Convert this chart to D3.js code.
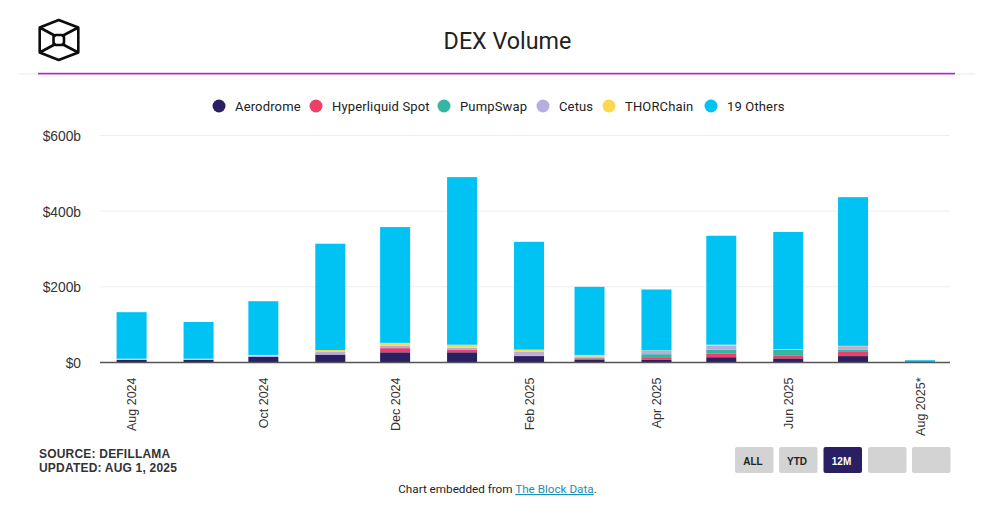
<!DOCTYPE html>
<html><head><meta charset="utf-8">
<script src="https://cdn.jsdelivr.net/npm/d3@7"></script>
<style>html,body{margin:0;padding:0;background:#fff}svg{display:block}</style>
</head><body><div id="c"></div>
<script>
const months=["2024-08-01","2024-09-01","2024-10-01","2024-11-01","2024-12-01","2025-01-01","2025-02-01","2025-03-01","2025-04-01","2025-05-01","2025-06-01","2025-07-01","2025-08-01"];
const seriesNames=["Aerodrome","Hyperliquid Spot","PumpSwap","Cetus","THORChain","19 Others"];
const seriesColors=["#2a1f63","#ee3f68","#35b5a2","#b7aede","#fbd84f","#00c2f3"];
const aerodrome=[7,7,15,21,27,27,17,8,7,14,11,17,0];
const hyperliquid=[0,0,0,0,11,6,1,3,7,9,8,11,0];
const pumpswap=[0,0,0,0,0,0,0,2,8,11,14,6,0];
const cetus=[1,1,3,7,6,6,11,3,9,10,1,9,0];
const thorchain=[2,2,2,5,8,8,5,4,1,3,1,1,0];
const others=[123,97,142,281,306,443,285,180,161,288,310,393,6];
const xTickDates=["2024-08-01","2024-10-01","2024-12-01","2025-02-01","2025-04-01","2025-06-01","2025-08-01"];
const xTickLabels=["Aug 2024","Oct 2024","Dec 2024","Feb 2025","Apr 2025","Jun 2025","Aug 2025*"];
const yTicks=[0,200,400,600];
const buttonLabels=["ALL","YTD","12M","",""];

const W=993,H=513,font="Roboto, sans-serif",arial="'Liberation Sans', Arial, sans-serif";
const svg=d3.select("#c").append("svg").attr("width",W).attr("height",H);
const parse=d3.utcParse("%Y-%m-%d");
const x=d3.scaleUtc().domain([parse(months[0]),parse(months[12])]).range([131.6,920]);
const y=d3.scaleLinear().domain([0,600]).range([362.5,135.5]);
const seriesValues=[aerodrome,hyperliquid,pumpswap,cetus,thorchain,others];
const rows=months.map((m,i)=>{const r={date:parse(m)};seriesNames.forEach((n,k)=>r[n]=seriesValues[k][i]);return r;});
const stacked=d3.stack().keys(seriesNames)(rows);

// header
svg.append("line").attr("x1",19).attr("x2",975).attr("y1",74).attr("y2",74).attr("stroke","#ebe6ee");
svg.append("rect").attr("x",38).attr("width",917).attr("y",72.8).attr("height",1.6).attr("fill","#b81fd6");
svg.append("text").attr("x",507.5).attr("y",49).attr("text-anchor","middle").attr("font-family",font).attr("font-size",23.3).attr("fill","#222").text("DEX Volume");
const logo=svg.append("g").attr("fill","none").attr("stroke","#0d0d0d").attr("stroke-width",2.6).attr("stroke-linejoin","round");
logo.append("path").attr("d","M58.7 20L78.3 27.5V52.5L58.7 60L39.7 52.5V27.5Z");
logo.append("path").attr("d","M55.5 35H62L64 37V43L62 45H55.5L53.5 43V37Z");
logo.append("path").attr("d","M39.7 27.5L54.5 35.5M78.3 27.5L63 35.5M39.7 52.5L54.5 44.5M78.3 52.5L63 44.5");

// legend
const legendX=[219,316,444,543,609,711];
const legend=svg.append("g").selectAll("g").data(seriesNames).join("g").attr("transform",(d,i)=>`translate(${legendX[i]},106)`);
legend.append("circle").attr("r",6.5).attr("fill",(d,i)=>seriesColors[i]);
legend.append("text").attr("x",16).attr("y",4.6).attr("font-family",font).attr("font-size",13).attr("letter-spacing",0.15).attr("fill","#222").text(d=>d);

// grid and y axis
const yAxis=svg.append("g").attr("transform","translate(100,0.6)").call(d3.axisLeft(y).tickValues(yTicks).tickSize(0).tickPadding(19).tickFormat(d=>d?`$${d}b`:"$0"));
yAxis.select(".domain").remove();
yAxis.selectAll("text").attr("font-family",arial).attr("font-size",13.8).attr("fill","#333");
svg.append("g").selectAll("line").data(yTicks.slice(1)).join("line").attr("x1",100).attr("x2",950).attr("y1",d=>y(d)).attr("y2",d=>y(d)).attr("stroke","#eeeeee");

// bars
svg.append("g").selectAll("g").data(stacked).join("g").attr("fill",(d,i)=>seriesColors[i])
 .selectAll("rect").data(d=>d).join("rect")
 .attr("x",d=>x(d.data.date)-15).attr("width",30)
 .attr("y",d=>y(d[1])).attr("height",d=>y(d[0])-y(d[1]));

// x axis
const xAxis=svg.append("g").attr("transform","translate(0,362.5)").call(d3.axisBottom(x).tickValues(xTickDates.map(parse)).tickSize(0).tickFormat((d,i)=>xTickLabels[i]));
xAxis.select(".domain").attr("d","M100,0H950").attr("stroke","#555").attr("stroke-width",1.4);
xAxis.selectAll("text").attr("transform","rotate(-90)").attr("text-anchor","end").attr("x",-15).attr("y",0).attr("dy","0.35em").attr("font-family",arial).attr("font-size",12.5).attr("fill","#333");

// footer
const foot=svg.append("g").attr("font-family",arial).attr("font-size",12).attr("font-weight","bold").attr("fill","#333").attr("letter-spacing",0.2);
foot.append("text").attr("x",39).attr("y",458).text("SOURCE: DEFILLAMA");
foot.append("text").attr("x",39).attr("y",472).text("UPDATED: AUG 1, 2025");
const emb=svg.append("text").attr("x",497.5).attr("y",493).attr("text-anchor","middle").attr("font-family",font).attr("font-size",11.7).attr("fill","#222");
emb.append("tspan").text("Chart embedded from ");
emb.append("tspan").attr("fill","#1a8fb8").attr("text-decoration","underline").text("The Block Data");
emb.append("tspan").text(".");

// buttons
const btnX=[735,779,823.5,868,912];
const btn=svg.append("g").selectAll("g").data(buttonLabels).join("g").attr("transform",(d,i)=>`translate(${btnX[i]},447)`);
btn.append("rect").attr("width",38.5).attr("height",26).attr("rx",2).attr("fill",(d,i)=>i===2?"#2a1f63":"#d3d3d3");
btn.append("text").attr("x",18).attr("y",18).attr("text-anchor","middle").attr("font-family",arial).attr("font-size",10).attr("font-weight","bold").attr("fill",(d,i)=>i===2?"#fff":"#222").text(d=>d);
</script></body></html>
